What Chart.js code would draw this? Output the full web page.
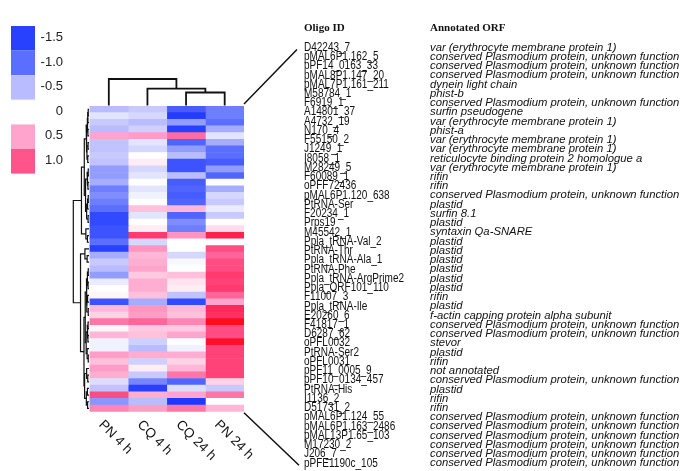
<!DOCTYPE html>
<html>
<head>
<meta charset="utf-8">
<script src="https://cdn.jsdelivr.net/npm/chart.js@4.4.1/dist/chart.umd.min.js"></script>
<style>
  html, body { margin: 0; padding: 0; background: #fff; }
  #wrap { position: relative; width: 685px; height: 471px; }
  #wrap canvas { position: absolute; left: 0; top: 0; pointer-events: none; }
</style>
</head>
<body>
<div id="wrap">
  <canvas id="heat" width="685" height="471"></canvas>
  <canvas id="colTree" width="685" height="471"></canvas>
  <canvas id="rowTree" width="685" height="471"></canvas>
</div>
<script>
// columns of the heatmap (left to right)
var columns = ["PN 4 h", "CQ 4 h", "CQ 24 h", "PN 24 h"];

var oligoIds = ["D42243_7", "pMAL6P1.162_5", "pPF14_0163_33", "pMAL8P1.147_20", "pMAL7P1.161_211",
  "M58784_1", "F6919_1", "A14801_37", "A4732_19", "N170_4", "F55150_2", "J1249_1", "I8058_1",
  "M28249_5", "F60089_1", "oPFF72436", "pMAL6P1.120_638", "PtRNA-Ser", "F20234_1", "Prps19",
  "M45542_1", "Ppla_tRNA-Val_2", "PtRNA-Thr", "Ppla_tRNA-Ala_1", "PtRNA-Phe", "Ppla_tRNA-ArgPrime2",
  "Ppla_ORF101_110", "F11007_3", "Ppla_tRNA-Ile", "E20260_6", "F41817_1", "D6287_62", "oPFL0032",
  "PtRNA-Ser2", "oPFL0031", "pPF11_0005_9", "pPF10_0134_457", "PtRNA-His", "I1136_2", "D51731_2",
  "pMAL6P1.124_55", "pMAL6P1.163_2486", "pMAL13P1.65_103", "M17230_2", "J206_7", "pPFE1190c_105"];

var cons = "conserved Plasmodium protein, unknown function";
var varp = "var (erythrocyte membrane protein 1)";
var annotations = [varp, cons, cons, cons, "dynein light chain", "phist-b", cons, "surfin pseudogene",
  varp, "phist-a", varp, varp, "reticulocyte binding protein 2 homologue a", varp, "rifin", "rifin",
  cons, "plastid", "surfin 8.1", "plastid", "syntaxin Qa-SNARE", "plastid", "plastid", "plastid",
  "plastid", "plastid", "plastid", "rifin", "plastid", "f-actin capping protein alpha subunit",
  cons, cons, "stevor", "plastid", "rifin", "not annotated", cons, "plastid", "rifin", "rifin",
  cons, cons, cons, cons, cons, cons];

// log ratios per column, one value per oligo (top to bottom)
var pn4h  = [-0.5, -0.2, -0.4, -0.5, 0.5, -0.45, -0.45, -0.4, -0.45, -0.7, -0.7, -0.6, -0.9, -0.8, -0.9, -1.0,
  -1.4, -1.4, -1.3, -1.3, -1.0, -1.5, -0.6, -0.4, -0.5, -0.7, -0.15, 0.0, 0.05, -1.3, 0.4, 0.25, 0.8, 0.05,
  0.4, -0.1, -0.1, 0.55, 0.35, 0.55, 0.45, -0.25, -0.45, 1.1, -0.75, 0.7];
var cq4h  = [-0.4, -0.3, -0.5, -0.35, 0.55, -0.2, -0.3, 0.0, 0.1, -0.3, -0.2, 0.0, -0.2, -0.1, 0.0, 0.35,
  -0.2, 0.0, 0.1, 1.3, -0.3, 0.6, 0.4, 0.45, 0.5, 0.3, 0.45, 0.45, 0.35, -0.6, 0.6, 0.55, 0.9, 0.3,
  0.35, -0.35, -0.5, 0.45, -0.35, 0.1, -0.4, -0.85, -1.5, 0.45, -0.5, 0.55];
var cq24h = [-1.2, -1.6, -0.7, -1.5, 0.85, -1.1, -0.7, -0.5, -1.3, -1.3, -0.5, -1.2, -1.1, -1.2, -1.1, 0.4,
  -1.1, -0.8, -0.9, 0.6, 0.0, 0.0, -0.3, -0.05, 0.0, 0.35, 0.15, 0.1, -0.45, -1.4, 0.4, 0.35, 0.7, 0.3,
  0.5, 0.0, -0.1, 0.45, 0.25, 0.4, 0.8, -1.1, -0.25, 0.5, -1.7, 0.8];
var pn24h = [-0.9, -0.9, -1.0, -0.6, -0.2, -0.6, -1.0, -1.0, -1.2, -0.7, -1.1, 0.0, -0.6, -0.3, -0.4, -0.15,
  -0.4, 0.0, 0.2, 1.6, 0.0, 1.1, 0.9, 1.1, 1.1, 1.3, 1.2, 1.3, 0.9, 0.5, 1.5, 1.4, 2.0, 1.1,
  1.1, 1.9, 1.2, 1.2, 1.2, 1.2, 1.2, 0.25, -0.4, 0.8, 0.0, 0.4];

var legendTicks = [-1.5, -1.0, -0.5, 0, 0.5, 1.0];

// dendrograms: [first leaf, last leaf of left branch, last leaf, height]
var colMerges = [[0, 0, 3, 1.0], [1, 1, 3, 0.64], [2, 2, 3, 0.49]];
var rowMerges = [
  [0, 20, 45, 1.00], [0, 17, 20, 0.48], [0, 8, 17, 0.30], [0, 4, 8, 0.18], [0, 2, 4, 0.12],
  [0, 1, 2, 0.08], [0, 0, 1, 0.05], [3, 3, 4, 0.07], [5, 6, 8, 0.13], [5, 5, 6, 0.06],
  [7, 7, 8, 0.08], [9, 12, 17, 0.22], [9, 10, 12, 0.12], [9, 9, 10, 0.05], [11, 11, 12, 0.07],
  [13, 15, 17, 0.15], [13, 14, 15, 0.09], [13, 13, 14, 0.05], [16, 16, 17, 0.06], [18, 18, 20, 0.20],
  [19, 19, 20, 0.10], [21, 23, 45, 0.54], [21, 21, 23, 0.26], [22, 22, 23, 0.12], [24, 38, 45, 0.32],
  [24, 31, 38, 0.24], [24, 27, 31, 0.16], [24, 25, 27, 0.10], [24, 24, 25, 0.05], [26, 26, 27, 0.06],
  [28, 29, 31, 0.14], [28, 28, 29, 0.09], [30, 30, 31, 0.05], [32, 35, 38, 0.18], [32, 33, 35, 0.11],
  [32, 32, 33, 0.06], [34, 34, 35, 0.07], [36, 36, 38, 0.12], [37, 37, 38, 0.05], [39, 41, 45, 0.28],
  [39, 39, 41, 0.15], [40, 40, 41, 0.08], [42, 43, 45, 0.17], [42, 42, 43, 0.10], [44, 44, 45, 0.09]];

var colorStops = [[-2, [20, 40, 255]], [-1.5, [40, 65, 255]], [-1, [90, 110, 255]], [-0.5, [185, 188, 255]],
  [0, [255, 255, 255]], [0.5, [255, 165, 205]], [1, [255, 85, 140]], [1.5, [255, 40, 90]], [2, [255, 10, 30]]];

function colorFor(v) {
  if (v <= colorStops[0][0]) return "rgb(" + colorStops[0][1].join(",") + ")";
  for (var i = 1; i < colorStops.length; i++) {
    if (v <= colorStops[i][0]) {
      var a = colorStops[i - 1], b = colorStops[i];
      var t = (v - a[0]) / (b[0] - a[0]);
      var c = a[1].map(function(x, k) { return Math.round(x + (b[1][k] - x) * t); });
      return "rgb(" + c.join(",") + ")";
    }
  }
  return "rgb(" + colorStops[colorStops.length - 1][1].join(",") + ")";
}

// turn merge list into bracket segments
function dendroSegments(merges, n) {
  var byRange = {};
  merges.forEach(function(m) { byRange[m[0] + "-" + m[2]] = m; });
  var segs = [];
  function walk(a, b) {
    if (a === b) return { pos: a, h: 0 };
    var m = byRange[a + "-" + b];
    var L = walk(a, m[1]), R = walk(m[1] + 1, b);
    segs.push([{ pos: L.pos, h: L.h }, { pos: L.pos, h: m[3] }, { pos: R.pos, h: m[3] }, { pos: R.pos, h: R.h }]);
    return { pos: (L.pos + R.pos) / 2, h: m[3] };
  }
  walk(0, n - 1);
  return segs;
}

var W = 685, H = 471;
var heatBox = { left: 89.5, right: 244, top: 106, bottom: 411.7 };
var labelX = 304, annoX = 430, labelTop = 47.5, labelStep = 9.24;
var FONT = "'Liberation Sans', Arial, sans-serif";

var seriesByCol = [pn4h, cq4h, cq24h, pn24h];

var textPlugin = {
  id: "heatText",
  afterDraw: function(chart) {
    var ctx = chart.ctx, area = chart.chartArea, xs = chart.scales.x;
    ctx.save();
    ctx.fillStyle = "#111";

    // colour key
    legendTicks.forEach(function(v, k) {
      var y0 = 26 + k * 24.6;
      ctx.fillStyle = colorFor(v);
      ctx.fillRect(11, y0, 24, 24.6);
      ctx.fillStyle = "#222";
      ctx.font = "13px " + FONT;
      ctx.textAlign = "right";
      ctx.textBaseline = "middle";
      ctx.fillText(v === 0 ? "0" : v.toFixed(1), 63, y0 + 11.5);
    });

    // column labels, rotated
    ctx.fillStyle = "#111";
    ctx.font = "13.5px " + FONT;
    ctx.textAlign = "left";
    ctx.textBaseline = "middle";
    columns.forEach(function(c, i) {
      var x = xs.getPixelForValue(i + 0.5) - 8;
      ctx.save();
      ctx.translate(x, area.bottom + 11);
      ctx.rotate(Math.PI / 4);
      ctx.fillText(c, 0, 0);
      ctx.restore();
    });

    // headers
    ctx.font = "bold 11px 'Liberation Serif', 'Times New Roman', serif";
    ctx.textBaseline = "alphabetic";
    ctx.fillText("Oligo ID", labelX, 31);
    ctx.fillText("Annotated ORF", annoX, 31);

    // row ids and annotations
    oligoIds.forEach(function(id, i) {
      var y = labelTop + i * labelStep;
      ctx.save();
      ctx.translate(labelX, y);
      ctx.scale(1, 1.2);
      ctx.font = "10px " + FONT;
      ctx.textBaseline = "middle";
      ctx.fillText(id, 0, 0);
      ctx.restore();
      ctx.font = "italic 11.3px " + FONT;
      ctx.textBaseline = "middle";
      ctx.fillText(annotations[i], annoX, y);
    });

    // lines joining the heatmap to the list
    ctx.strokeStyle = "#111";
    ctx.lineWidth = 1.5;
    ctx.beginPath();
    ctx.moveTo(area.right, area.top - 2);
    ctx.lineTo(labelX - 7, labelTop + 2);
    ctx.moveTo(area.right, area.bottom + 1);
    ctx.lineTo(labelX - 5, labelTop + (oligoIds.length - 1) * labelStep + 2);
    ctx.stroke();
    ctx.restore();
  }
};

new Chart(document.getElementById("heat"), {
  type: "bar",
  data: {
    labels: oligoIds,
    datasets: seriesByCol.map(function(vals, c) {
      return {
        label: columns[c],
        data: vals.map(function() { return [c, c + 1]; }),
        backgroundColor: vals.map(colorFor),
        borderWidth: 0,
        grouped: false,
        barPercentage: 1,
        categoryPercentage: 1
      };
    })
  },
  options: {
    indexAxis: "y",
    responsive: false,
    animation: false,
    layout: { padding: { left: heatBox.left, right: W - heatBox.right, top: heatBox.top, bottom: H - heatBox.bottom } },
    plugins: { legend: { display: false }, tooltip: { enabled: false } },
    scales: {
      x: { type: "linear", min: 0, max: 4, display: false },
      y: { display: false }
    }
  },
  plugins: [textPlugin]
});

function treeDatasets(segs, toXY, width) {
  return segs.map(function(s) {
    return {
      data: s.map(toXY),
      showLine: true,
      borderColor: "#111",
      borderWidth: width,
      pointRadius: 0,
      tension: 0,
      fill: false,
      clip: false
    };
  });
}

// column dendrogram above the heatmap
new Chart(document.getElementById("colTree"), {
  type: "scatter",
  data: {
    datasets: treeDatasets(dendroSegments(colMerges, columns.length), function(p) {
      return { x: p.pos + 0.5, y: p.h };
    }, 1.8)
  },
  options: {
    responsive: false,
    animation: false,
    layout: { padding: { left: heatBox.left, right: W - heatBox.right, top: 79, bottom: H - 105.5 } },
    plugins: { legend: { display: false }, tooltip: { enabled: false } },
    scales: {
      x: { type: "linear", min: 0, max: 4, display: false },
      y: { type: "linear", min: 0, max: 1, display: false }
    }
  }
});

// row dendrogram left of the heatmap
new Chart(document.getElementById("rowTree"), {
  type: "scatter",
  data: {
    datasets: treeDatasets(dendroSegments(rowMerges, oligoIds.length), function(p) {
      return { x: p.h, y: p.pos };
    }, 1.2)
  },
  options: {
    responsive: false,
    animation: false,
    layout: { padding: { left: 73.3, right: W - 89, top: heatBox.top, bottom: H - heatBox.bottom } },
    plugins: { legend: { display: false }, tooltip: { enabled: false } },
    scales: {
      x: { type: "linear", min: 0, max: 1, reverse: true, display: false },
      y: { type: "linear", min: -0.5, max: oligoIds.length - 0.5, reverse: true, display: false }
    }
  }
});
</script>
</body>
</html>
